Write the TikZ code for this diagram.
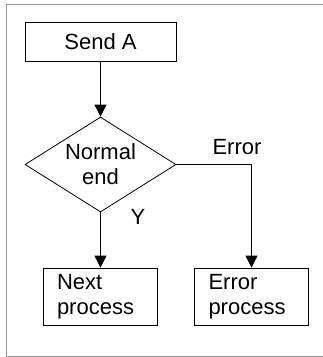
\documentclass[tikz,border=0pt]{standalone}
\usepackage{fontspec}
\setmainfont{Liberation Sans}
\usetikzlibrary{shapes.geometric,arrows.meta}
\begin{document}
\begin{tikzpicture}[x=1pt,y=-1pt,
  every node/.style={font=\fontsize{22}{25}\selectfont},
  stepbox/.style={draw, line width=0.8pt, inner sep=0pt},
  procbox/.style={draw, line width=0.8pt, align=left, text width=86pt, inner xsep=14pt, inner ysep=0pt, minimum height=57pt},
  decbox/.style={draw, diamond, line width=0.8pt, aspect=1.58, minimum width=151pt, minimum height=95pt, inner sep=0pt, align=center},
  arr/.style={line width=0.8pt, -{Triangle[width=12pt,length=12pt]}},
  lbl/.style={inner sep=0pt}]
\useasboundingbox (0,0) rectangle (323,357);
\draw[gray!80, line width=1pt] (323,4) -- (6,4) -- (6,356) -- (323,356);
\node[stepbox, minimum width=151pt, minimum height=39pt] (send) at (100.5,41.5) {Send A};
\node[decbox] (dec) at (100.5,164.5) {Normal\\end};
\node[procbox] (next) at (100,296.5) {Next\\process};
\node[procbox] (err) at (251.5,296.5) {Error\\process};
\draw[arr] (send) -- (dec);
\draw[arr] (dec.south) -- (dec.south |- next.north);
\draw[arr] (dec.east) -| (err.north);
\node[lbl] (errlbl) at (237,147) {Error};
\node[lbl] (ylbl) at (138,217) {Y};
\end{tikzpicture}
\end{document}
